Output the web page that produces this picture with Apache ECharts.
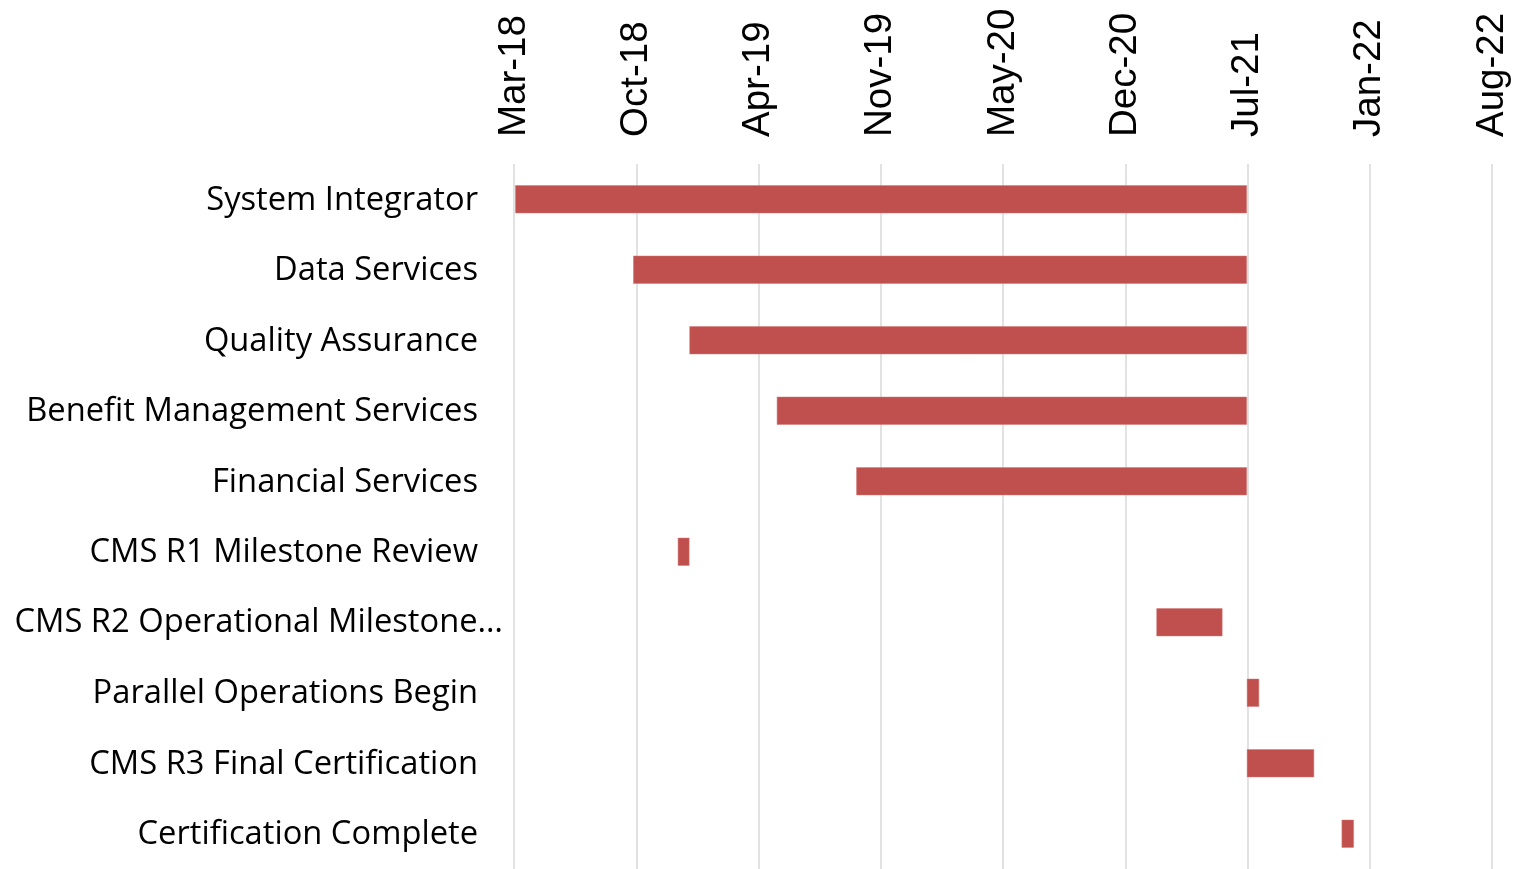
<!DOCTYPE html>
<html>
<head>
<meta charset="utf-8">
<script src="https://cdn.jsdelivr.net/npm/echarts@6/dist/echarts.min.js"></script>
<style>
  html, body { margin: 0; padding: 0; background: #fff; }
  #GanttChart { width: 1528px; height: 869px; }
</style>
</head>
<body>
<div id="GanttChart"></div>
<script>
// task names, top to bottom
var tasks = [
    'System Integrator',
    'Data Services',
    'Quality Assurance',
    'Benefit Management Services',
    'Financial Services',
    'CMS R1 Milestone Review',
    'CMS R2 Operational Milestone…',
    'Parallel Operations Begin',
    'CMS R3 Final Certification',
    'Certification Complete'
];
var startDates = [
    '2018-03-22', '2018-10-01', '2019-01-01', '2019-05-24', '2019-10-01',
    '2018-12-13', '2021-02-03', '2021-07-01', '2021-07-01', '2021-12-03'
];
var endDates = [
    '2021-07-01', '2021-07-01', '2021-07-01', '2021-07-01', '2021-07-01',
    '2019-01-01', '2021-05-22', '2021-07-21', '2021-10-19', '2021-12-23'
];
// axis: days after 2018-03-20, one tick every 200 days
var axisStart = '2018-03-20';
var tickLabels = ['Mar-18', 'Oct-18', 'Apr-19', 'Nov-19', 'May-20', 'Dec-20', 'Jul-21', 'Jan-22', 'Aug-22'];
var tickStep = 200;

function dayNum(s) {
    var p = s.split('-');
    return Date.UTC(+p[0], +p[1] - 1, +p[2]) / 86400000;
}
var base = dayNum(axisStart);
var offsets = startDates.map(function (d) { return dayNum(d) - base; });
var durations = endDates.map(function (d, i) { return dayNum(d) - dayNum(startDates[i]); });

var myChart = echarts.init(document.getElementById('GanttChart'));
myChart.setOption({
    animation: false,
    grid: {
        left: 514,
        right: 36,
        top: 164,
        height: 708
    },
    xAxis: {
        type: 'value',
        position: 'top',
        min: 0,
        max: tickStep * (tickLabels.length - 1),
        interval: tickStep,
        axisLine: { show: false },
        axisTick: { show: false },
        splitLine: { show: true, lineStyle: { color: '#d9d9d9', width: 1.5 } },
        axisLabel: {
            rotate: -90,
            margin: 27,
            color: '#000',
            fontFamily: 'Liberation Sans',
            fontSize: 38.5,
            padding: [0, 0, 6, 0],
            formatter: function (v) { return tickLabels[Math.round(v / tickStep)]; }
        }
    },
    yAxis: {
        type: 'category',
        inverse: true,
        data: tasks,
        axisLine: { show: false },
        axisTick: { show: false },
        axisLabel: {
            margin: 11,
            color: '#000',
            fontFamily: 'Open Sans',
            fontSize: 32.7,
            formatter: function (v) {
                return v.indexOf('…') >= 0 ? '{t|' + v + '}' : '{p|' + v + '}';
            },
            rich: {
                t: { fontFamily: 'Open Sans', fontSize: 32.7, color: '#000' },
                p: { fontFamily: 'Open Sans', fontSize: 32.7, color: '#000', padding: [2, 25, 0, 0] }
            }
        }
    },
    series: [
        {
            name: 'Start',
            type: 'bar',
            stack: 'gantt',
            barWidth: 28,
            itemStyle: { color: 'transparent' },
            data: offsets
        },
        {
            name: 'Duration',
            type: 'bar',
            stack: 'gantt',
            barWidth: 28,
            itemStyle: { color: '#c0504d', borderColor: '#d07b78', borderWidth: 0.5 },
            data: durations
        }
    ]
});
</script>
</body>
</html>
